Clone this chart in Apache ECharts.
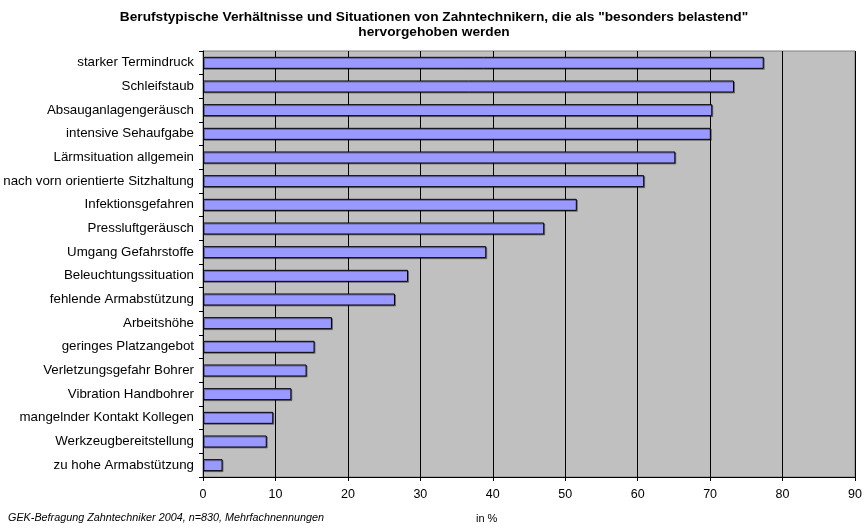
<!DOCTYPE html>
<html>
<head>
<meta charset="utf-8">
<script src="https://cdn.jsdelivr.net/npm/echarts@6/dist/echarts.min.js"></script>
<style>
  html, body { margin: 0; padding: 0; background: #fff; }
  #main { width: 868px; height: 528px; }
</style>
</head>
<body>
<div id="main"></div>
<script>
// Kategorien von oben nach unten
const categories = [
  'starker Termindruck',
  'Schleifstaub',
  'Absauganlagengeräusch',
  'intensive Sehaufgabe',
  'Lärmsituation allgemein',
  'nach vorn orientierte Sitzhaltung',
  'Infektionsgefahren',
  'Pressluftgeräusch',
  'Umgang Gefahrstoffe',
  'Beleuchtungssituation',
  'fehlende Armabstützung',
  'Arbeitshöhe',
  'geringes Platzangebot',
  'Verletzungsgefahr Bohrer',
  'Vibration Handbohrer',
  'mangelnder Kontakt Kollegen',
  'Werkzeugbereitstellung',
  'zu hohe Armabstützung'
];
const values = [77.4, 73.3, 70.3, 70.1, 65.2, 60.9, 51.6, 47.1, 39.1, 28.3, 26.5, 17.8, 15.4, 14.3, 12.2, 9.7, 8.8, 2.7];

const font = 'Liberation Sans, Arial, sans-serif';
const chart = echarts.init(document.getElementById('main'));

chart.setOption({
  animation: false,
  title: {
    text: 'Berufstypische Verhältnisse und Situationen von Zahntechnikern, die als "besonders belastend"\nhervorgehoben werden',
    left: 'center',
    top: 5,
    textStyle: { fontFamily: font, fontSize: 13.7, fontWeight: 'bold', color: '#000', lineHeight: 15 }
  },
  graphic: [
    {
      type: 'text', left: 8, top: 512,
      style: { text: 'GEK-Befragung Zahntechniker 2004, n=830, Mehrfachnennungen', font: 'italic 10.8px ' + font, fill: '#000' }
    },
    {
      type: 'text', left: 476, top: 513,
      style: { text: 'in %', font: '11px ' + font, fill: '#000' }
    }
  ],
  grid: {
    left: 203, right: 13, top: 51, bottom: 51,
    show: true, backgroundColor: '#c0c0c0', borderColor: '#808080', borderWidth: 1
  },
  xAxis: {
    type: 'value', min: 0, max: 90, interval: 10,
    axisLine: { show: true, lineStyle: { color: '#000' } },
    axisTick: { show: true, length: 4, lineStyle: { color: '#000' } },
    axisLabel: { fontFamily: font, fontSize: 12.5, color: '#000', margin: 11 },
    splitLine: { show: true, lineStyle: { color: '#000', width: 1 } }
  },
  yAxis: {
    type: 'category', data: categories, inverse: true,
    axisLine: { show: true, lineStyle: { color: '#000' } },
    axisTick: { show: true, length: 4, lineStyle: { color: '#000' } },
    axisLabel: { fontFamily: font, fontSize: 13.3, color: '#000', margin: 9, padding: [2, 0, 0, 0] }
  },
  series: [{
    type: 'bar',
    data: values,
    barWidth: 12,
    itemStyle: {
      color: '#9999ff', borderColor: '#000', borderWidth: 1,
      shadowColor: 'rgba(0,0,0,0.35)', shadowOffsetX: 1, shadowOffsetY: 1
    }
  }]
});
</script>
</body>
</html>
